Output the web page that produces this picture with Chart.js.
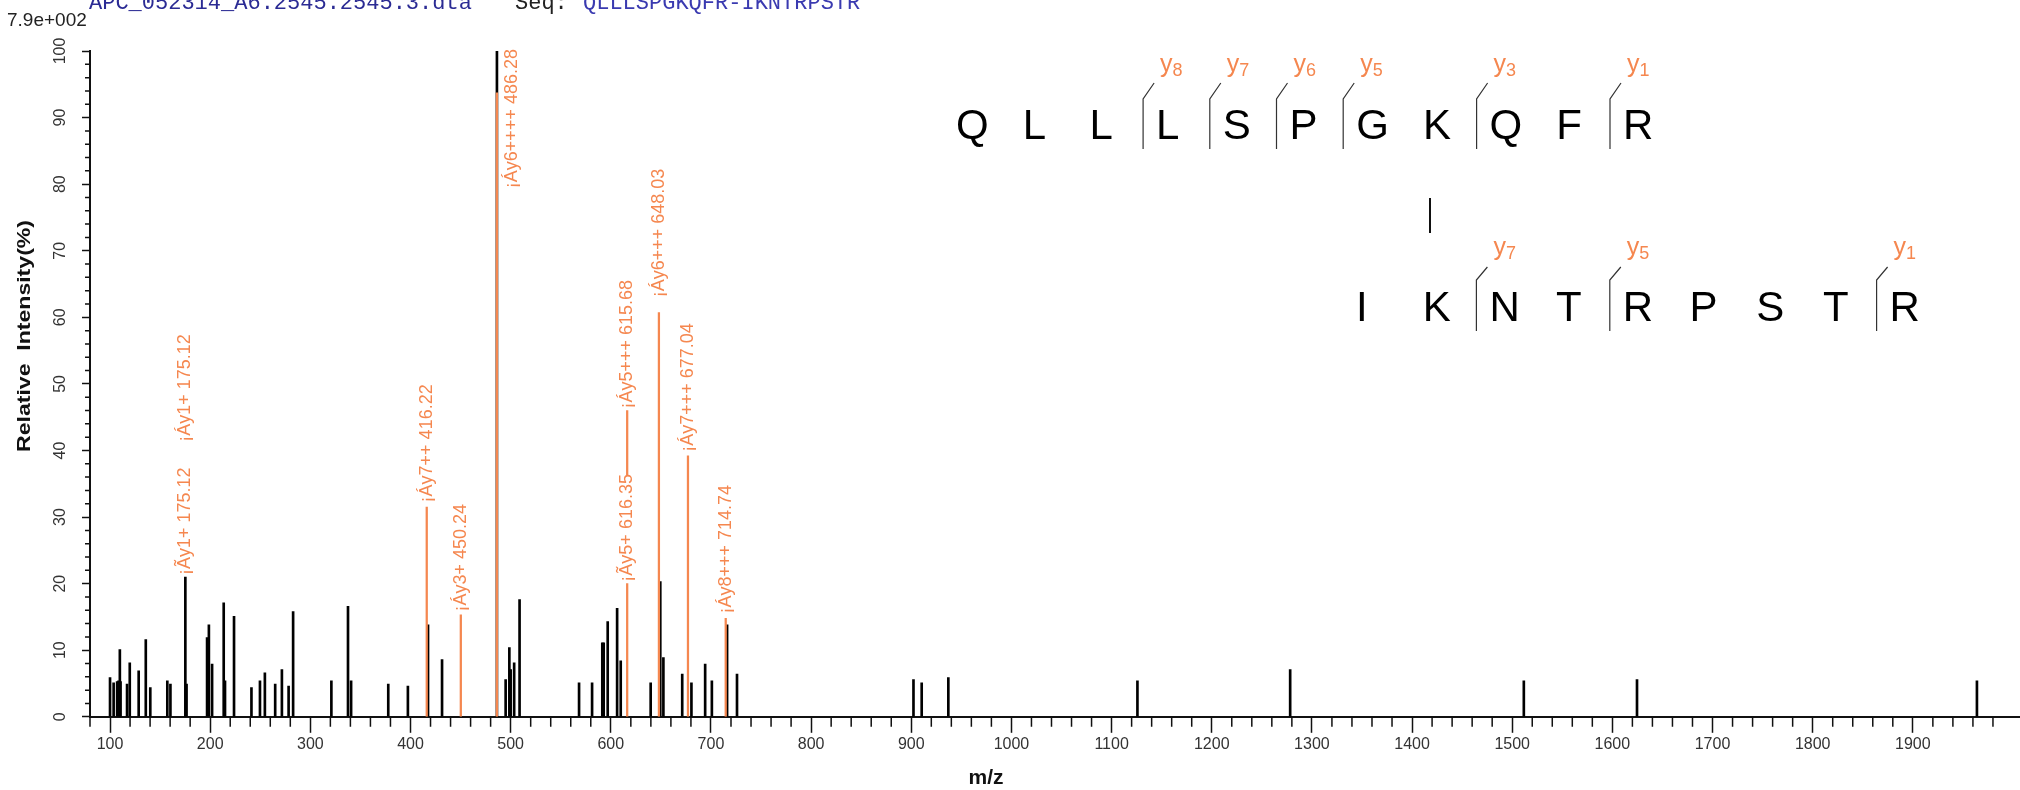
<!DOCTYPE html>
<html>
<head>
<meta charset="utf-8">
<script src="https://cdn.jsdelivr.net/npm/chart.js@4.4.1/dist/chart.umd.min.js"></script>
<style>
  html, body { margin: 0; padding: 0; background: #fff; overflow: hidden; }
  #wrap { width: 2020px; height: 790px; }
</style>
</head>
<body>
<div id="wrap"><canvas id="spectrum" width="2020" height="790"></canvas></div>
<script>
// raw peaks: m/z and relative intensity (%)
const peakMz = [
  100.0, 103.6, 107.1, 108.5, 109.8, 110.5, 117.0, 119.7, 128.6, 135.7, 140.2,
  157.2, 160.3, 175.2, 176.4, 196.9, 198.7, 201.9, 213.5, 214.8, 223.8,
  241.2, 249.7, 254.6, 264.9, 271.6, 278.3, 282.8, 321.0, 337.6, 340.7,
  377.8, 397.4, 417.5, 431.5, 486.3, 495.0, 498.7, 500.0, 503.5, 508.9,
  568.3, 581.3, 591.5, 592.9, 596.9, 606.3, 609.9, 639.8, 649.4, 652.5,
  671.3, 680.5, 694.2, 700.9, 716.1, 726.0,
  902.2, 910.4, 937.0, 1125.8, 1278.3, 1511.6, 1624.6, 1964.0
]
const peakInt = [
  5.9, 5.1, 5.3, 5.4, 10.1, 5.3, 4.9, 8.1, 6.9, 11.6, 4.4,
  5.4, 4.9, 21.0, 4.9, 11.9, 13.8, 7.9, 17.1, 5.4, 15.1,
  4.4, 5.4, 6.6, 4.9, 7.1, 4.6, 15.8, 5.4, 16.6, 5.4,
  4.9, 4.6, 13.8, 8.6, 100, 5.6, 10.4, 7.1, 8.1, 17.6,
  5.1, 5.1, 11.1, 11.1, 14.3, 16.3, 8.4, 5.1, 20.3, 8.9,
  6.4, 5.1, 7.9, 5.4, 13.8, 6.4,
  5.6, 5.1, 5.9, 5.4, 7.1, 5.4, 5.6, 5.4
]

// matched fragment ions: orange marker lines (from / to, %)
const ionLineMz = [416.22, 450.24, 486.28, 616.35, 616.35, 648.03, 677.04, 714.74]
const ionLineLow = [0, 0, 0, 0, 36.3, 0, 0, 0]
const ionLineHigh = [31.5, 15.3, 93.7, 20.0, 46.0, 60.7, 39.2, 14.8]

// ion labels and the intensity level where each label starts
const ionText = [
  '¡Ãy1+ 175.12', '¡Áy1+ 175.12', '¡Áy7++ 416.22', '¡Áy3+ 450.24', '¡Áy6++++ 486.28',
  '¡Ãy5+ 616.35', '¡Áy5+++ 615.68', '¡Áy6+++ 648.03', '¡Áy7+++ 677.04', '¡Áy8+++ 714.74'
]
const ionMz = [175.12, 175.12, 416.22, 450.24, 486.28, 616.35, 616.35, 648.03, 677.04, 714.74]
const ionFrom = [21.3, 41.3, 32.2, 15.8, 79.4, 20.3, 46.3, 63.0, 39.8, 15.5]

const yTicks = [0, 10, 20, 30, 40, 50, 60, 70, 80, 90, 100]

// cross-linked peptide sequences and their y-ion cleavage sites
const alphaSeq = ['Q', 'L', 'L', 'L', 'S', 'P', 'G', 'K', 'Q', 'F', 'R']
const alphaCuts = [3, 4, 5, 6, 8, 10]
const alphaIons = ['8', '7', '6', '5', '3', '1']
const betaSeq = ['I', 'K', 'N', 'T', 'R', 'P', 'S', 'T', 'R']
const betaCuts = [2, 4, 8]
const betaIons = ['7', '5', '1']

const ORANGE = '#f5874f'
const SANS = '"Liberation Sans", Arial, sans-serif'

function rotText(ctx, text, x, y, font, color, align, targetLen) {
  ctx.save()
  ctx.font = font
  ctx.fillStyle = color
  ctx.translate(x, y)
  ctx.rotate(-Math.PI / 2)
  if (targetLen) ctx.scale(targetLen / ctx.measureText(text).width, 1)
  ctx.textAlign = align
  ctx.textBaseline = 'middle'
  ctx.fillText(text, 0, 0)
  ctx.restore()
}

function drawSeq(ctx, letters, x0, base, cuts, ions, mark) {
  const step = 66.7
  ctx.fillStyle = '#000'
  ctx.font = '42px ' + SANS
  ctx.textAlign = 'left'
  ctx.textBaseline = 'alphabetic'
  letters.forEach((l, i) => ctx.fillText(l, x0 + i * step, base))

  ctx.strokeStyle = '#333'
  ctx.lineWidth = 1.2
  cuts.forEach((c, k) => {
    const lx = x0 + c * step - 13
    ctx.beginPath()
    ctx.moveTo(lx, mark.bottom)
    ctx.lineTo(lx, mark.top)
    ctx.lineTo(lx + 11, mark.top - mark.diag)
    ctx.stroke()
    ctx.fillStyle = ORANGE
    ctx.font = '25px ' + SANS
    ctx.fillText('y', lx + 17, mark.label)
    const w = ctx.measureText('y').width
    ctx.font = '18px ' + SANS
    ctx.fillText(ions[k], lx + 17 + w, mark.label + 4)
  })
}

const decor = {
  id: 'decor',
  afterDraw(chart) {
    const { ctx, chartArea: a, scales: { x, y } } = chart
    ctx.save()

    // minor ticks
    ctx.strokeStyle = '#111'
    ctx.lineWidth = 1.5
    ctx.beginPath()
    for (let v = 80; v <= 1990; v += 20) {
      if (v % 100 === 0) continue
      const px = x.getPixelForValue(v)
      ctx.moveTo(px, a.bottom)
      ctx.lineTo(px, a.bottom + 10)
    }
    for (let v = 0; v <= 100; v += 2) {
      if (v % 10 === 0) continue
      const py = y.getPixelForValue(v)
      ctx.moveTo(a.left - 5, py)
      ctx.lineTo(a.left, py)
    }
    ctx.stroke()

    // rotated y tick labels
    yTicks.forEach(v => rotText(ctx, String(v), 61, y.getPixelForValue(v), '16px ' + SANS, '#333', 'center'))

    // axis titles
    rotText(ctx, 'Relative  Intensity(%)', 25, 336, 'bold 18px ' + SANS, '#111', 'center', 232)
    ctx.font = 'bold 21px ' + SANS
    ctx.fillStyle = '#111'
    ctx.textAlign = 'center'
    ctx.textBaseline = 'middle'
    ctx.fillText('m/z', 986, 778)

    // header
    ctx.textAlign = 'left'
    ctx.textBaseline = 'alphabetic'
    ctx.font = '19px ' + SANS
    ctx.fillStyle = '#222'
    ctx.fillText('7.9e+002', 7, 26)
    ctx.font = '22px "Liberation Mono", monospace'
    ctx.fillStyle = '#2b2b94'
    ctx.fillText('APC_052314_A6.2545.2545.3.dta', 89, 9)
    ctx.fillStyle = '#222'
    ctx.fillText('Seq:', 515, 9)
    ctx.fillStyle = '#3a3ab0'
    ctx.fillText('QLLLSPGKQFR-IKNTRPSTR', 583, 9)

    // ion labels
    ionText.forEach((t, i) => {
      const shift = ionMz[i] === 486.28 ? 15 : 0
      rotText(ctx, t, x.getPixelForValue(ionMz[i]) + shift, y.getPixelForValue(ionFrom[i]),
        '18px ' + SANS, ORANGE, 'left')
    })

    // sequence map
    drawSeq(ctx, alphaSeq, 956, 139, alphaCuts, alphaIons, { bottom: 149, top: 99, diag: 16, label: 72 })
    drawSeq(ctx, betaSeq, 1356, 321, betaCuts, betaIons, { bottom: 331, top: 280, diag: 13, label: 255 })
    ctx.strokeStyle = '#111'
    ctx.lineWidth = 2
    ctx.beginPath()
    ctx.moveTo(1430, 198)
    ctx.lineTo(1430, 233)
    ctx.stroke()

    ctx.restore()
  }
}

new Chart(document.getElementById('spectrum'), {
  type: 'bar',
  data: {
    datasets: [
      {
        label: 'matched',
        data: ionLineMz.map((m, i) => ({ x: m, y: [ionLineLow[i], ionLineHigh[i]] })),
        backgroundColor: ORANGE,
        barThickness: 1.6,
        grouped: false,
        order: 0
      },
      {
        label: 'peaks',
        data: peakMz.map((m, i) => ({ x: m, y: peakInt[i] })),
        backgroundColor: '#000',
        barThickness: 2,
        grouped: false,
        order: 1
      }
    ]
  },
  options: {
    responsive: false,
    animation: false,
    layout: { padding: { left: 82, top: 51, right: 0, bottom: 34 } },
    plugins: {
      legend: { display: false },
      tooltip: { enabled: false }
    },
    scales: {
      x: {
        type: 'linear',
        min: 80,
        max: 2007,
        offset: false,
        afterBuildTicks: s => { s.ticks = s.ticks.filter(t => t.value % 100 === 0 && t.value <= 1990) },
        ticks: {
          stepSize: 100,
          includeBounds: false,
          autoSkip: false,
          maxRotation: 0,
          padding: 2,
          color: '#333',
          font: { family: SANS, size: 16 },
          callback: v => String(v)
        },
        grid: { drawOnChartArea: false, offset: false, tickLength: 16, tickWidth: 1.5, tickColor: '#111' },
        border: { color: '#111', width: 2 }
      },
      y: {
        min: 0,
        max: 100,
        ticks: { display: false, stepSize: 10 },
        grid: { drawOnChartArea: false, tickLength: 8, tickWidth: 1.5, tickColor: '#111' },
        border: { color: '#111', width: 2 }
      }
    }
  },
  plugins: [decor]
})
</script>
</body>
</html>
